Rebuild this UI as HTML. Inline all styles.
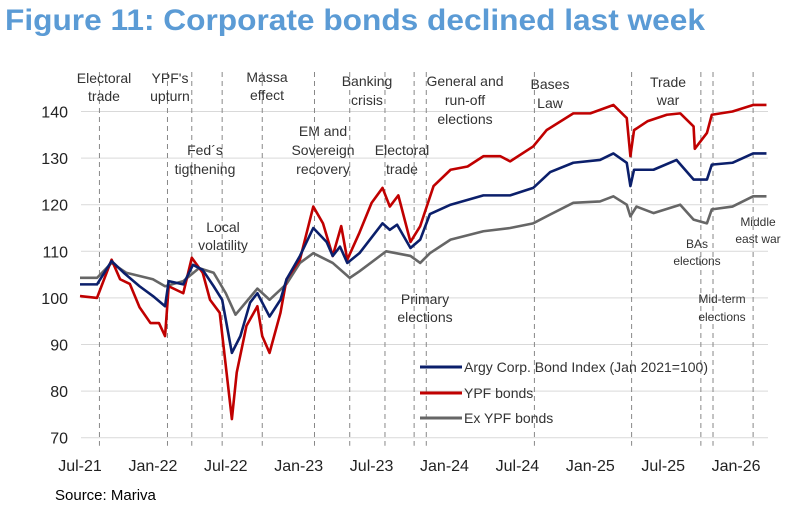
<!DOCTYPE html>
<html><head><meta charset="utf-8"><style>
body{margin:0;background:#fff;width:800px;height:513px;overflow:hidden;font-family:"Liberation Sans",Arial,sans-serif}
</style></head><body>
<svg id="chart" width="800" height="513" xmlns="http://www.w3.org/2000/svg">
<text x="5" y="30" font-family="Liberation Sans, sans-serif" font-weight="bold" font-size="30" fill="#5b9bd5" textLength="700" lengthAdjust="spacingAndGlyphs">Figure 11: Corporate bonds declined last week</text>
<text x="55" y="500" font-size="15" fill="#000">Source: Mariva</text>
<g id="grid"></g><g id="events"></g><g id="series"></g><g id="labels"></g><g id="legend"></g>
</svg>
<script>
// months since Jul-21
const yTicks=[70,80,90,100,110,120,130,140];
const xTickLabels=["Jul-21","Jan-22","Jul-22","Jan-23","Jul-23","Jan-24","Jul-24","Jan-25","Jul-25","Jan-26"];
const xTickMonths=[0,6,12,18,24,30,36,42,48,54];
const eventMonths=[1.6,7.2,9.2,11.7,15,19.3,22.2,25.1,27.5,28.5,37.4,45.4,51.1,52.1,55.4];
const indexM=[0,1.4,2.6,3.6,4.9,6,7,7.3,8.5,9.3,10.1,11,11.7,12.5,13.2,14,14.6,15.6,16.5,17,18.1,19.2,20.3,20.8,21.4,22,23,24.9,25.5,26.1,27.2,28,28.8,30.5,33.2,35.4,37.3,38.7,40.6,42.8,43.9,45,45.3,45.6,47.2,49.1,50.5,51.6,52,53.7,55.4,56.5];
const indexV=[102.9,102.9,107.9,105.4,102.5,100.4,98.2,103.6,102.9,107.1,106,102.5,99.6,88.2,91.8,99,101,96,99.6,104,109,115,112,109,111,107.5,109.6,116,114.6,115.7,110.7,112.5,118,120,122,122,123.6,127,129,129.6,131,129,124,127.5,127.5,129.6,125.4,125.4,128.6,129,131,131];
const ypfM=[0,1.4,2.6,3.3,4.1,4.9,5.8,6.5,7,7.3,8.5,9.2,10.1,10.7,11.5,12.5,12.9,13.7,14.6,15,15.6,16.5,17,18.1,19.2,20,20.8,21.5,22,23,24,24.9,25.5,26.2,27.2,28,29.1,30.5,31.9,33.2,34.6,35.4,37.3,38.4,40.6,42,43.9,45,45.3,45.6,46.7,48.3,49.4,50.5,50.6,51.6,52,53.7,55.4,56.5];
const ypfV=[100.4,100,108.2,104,103,98,94.6,94.6,91.8,102.5,101,108.6,105.4,99.6,96.8,74,84,94,98.2,91.8,88.2,96.8,104,108.2,119.6,116,109,115.4,108.2,114,120.4,123.6,119.6,122,112,115.4,124,127.5,128.2,130.4,130.4,129.3,132.5,136,139.6,139.6,141.4,138.6,130.4,136,137.9,139.3,139.6,136.8,132,135.4,139.3,140,141.4,141.4];
const exM=[0,1.4,2.6,3.8,6,7,8.5,9.8,11,12,12.8,14.6,15.6,17,18.1,19.2,20.8,22.2,23,25.2,27.2,28,28.8,30.5,33.2,35.4,37.3,38.7,40.6,42.8,43.9,45,45.3,45.8,47.2,49.4,50.5,51.6,52,53.7,55.4,56.5];
const exV=[104.3,104.3,107.5,105.4,104,102.5,103.6,106.4,105.4,101,96.4,102,99.6,103,107.5,109.6,107.5,104.3,105.7,110,109,107.5,109.6,112.5,114.3,115,116,117.9,120.4,120.7,121.8,120,117.5,119.6,118.2,120,116.8,116,119,119.6,121.8,121.8];

const NS="http://www.w3.org/2000/svg";
const X=m=>80+m*12.15;
const Y=v=>111.5+(140-v)*4.66;
const x0=81,x1=768;
function mk(tag,attrs,parent){const e=document.createElementNS(NS,tag);for(const k in attrs)e.setAttribute(k,attrs[k]);document.getElementById(parent).appendChild(e);return e;}
yTicks.forEach(v=>{
  const l=mk("line",{x1:x0,x2:x1,y1:Y(v),y2:Y(v),stroke:"#d9d9d9","stroke-width":1},"grid");
  
  
  const t=mk("text",{x:68,y:Y(v)+6,"text-anchor":"end","font-size":16,fill:"#222"},"grid");
  t.textContent=v;
  
  
});
xTickLabels.forEach((s,i)=>{
  const t=mk("text",{x:X(xTickMonths[i]),y:471,"text-anchor":"middle","font-size":16,fill:"#222"},"grid");
  t.textContent=s;
  
  
});
eventMonths.forEach((m,i)=>{
  const l=mk("line",{x1:X(m),x2:X(m),y1:72,y2:Y(70)+8,stroke:"#888","stroke-width":1,"stroke-dasharray":"5,4"},"events");
  
  
});
function series(M,V,color,name){
  const p=mk("polyline",{points:M.map((m,i)=>X(m)+","+Y(V[i])).join(" "),fill:"none",stroke:color,"stroke-width":2.6,"stroke-linejoin":"round"},"series");
  
  
}
series(exM,exV,"#666","ex-ypf-line");
series(ypfM,ypfV,"#c00000","ypf-line");
series(indexM,indexV,"#0b1f6b","index-line");
const notes=[
 [104,[83,101],["Electoral","trade"],14],
 [170,[83,101],["YPF's","upturn"],14],
 [205,[155,174],["Fed´s","tigthening"],14],
 [267,[82,100],["Massa","effect"],14],
 [223,[232,250],["Local","volatility"],14],
 [323,[136,155,174],["EM and","Sovereign","recovery"],14],
 [367,[86,105],["Banking","crisis"],14],
 [402,[155,174],["Electoral","trade"],14],
 [465,[86,105,124],["General and","run-off","elections"],14],
 [550,[89,108],["Bases","Law"],14],
 [668,[87,105],["Trade","war"],14],
 [425,[304,322],["Primary","elections"],14],
 [697,[248,265],["BAs","elections"],12],
 [758,[226,243],["Middle","east war"],12],
 [722,[303,321],["Mid-term","elections"],12]
];
notes.forEach((n,i)=>{
  n[2].forEach((s,j)=>{
    const t=mk("text",{x:n[0],y:n[1][j],"text-anchor":"middle","font-size":n[3],fill:"#333"},"labels");
    t.textContent=s;
    
    
  });
});
const leg=[["Argy Corp. Bond Index (Jan 2021=100)","#0b1f6b",367],["YPF bonds","#c00000",393],["Ex YPF bonds","#666",418]];
leg.forEach((l,i)=>{
  const ln=mk("line",{x1:420,x2:462,y1:l[2],y2:l[2],stroke:l[1],"stroke-width":3},"legend");
  
  
  const t=mk("text",{x:464,y:l[2]+5,"font-size":14,fill:"#333"},"legend");
  t.textContent=l[0];
  
  
});
</script>
</body></html>
